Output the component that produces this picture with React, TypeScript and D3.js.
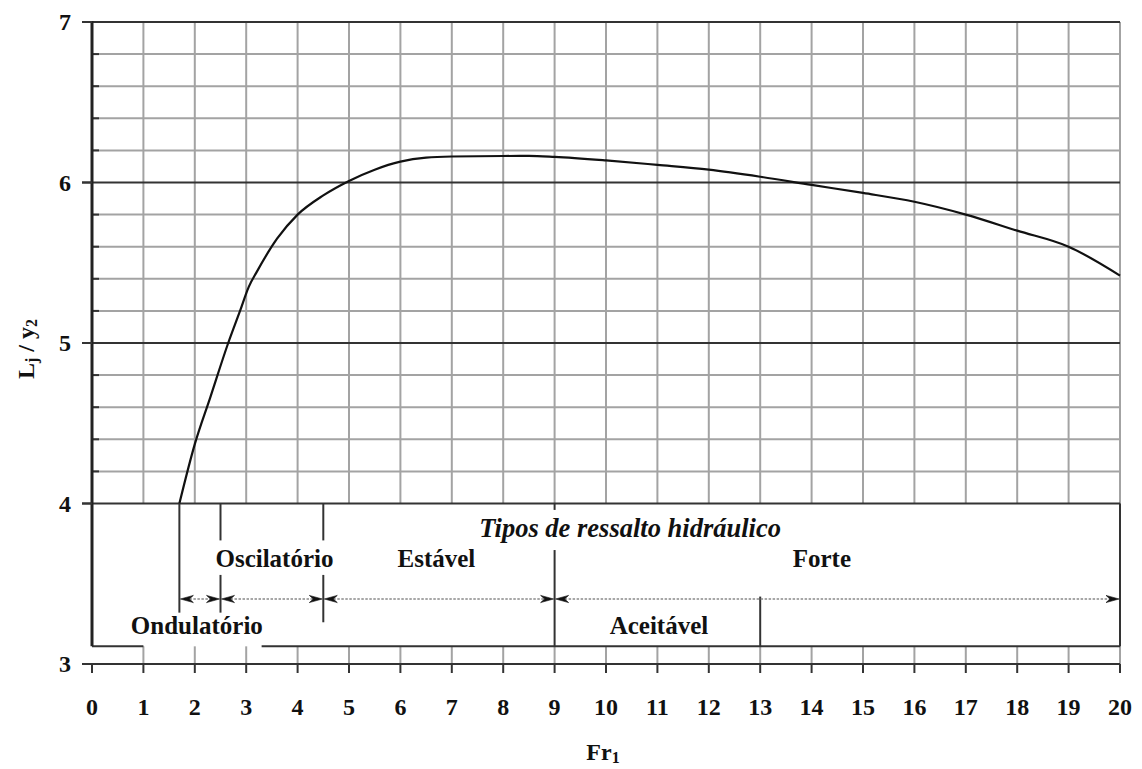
import React from "react";
import * as d3 from "d3";

// Relative length of the hydraulic jump, L_j / y_2, against upstream Froude number Fr_1
const frValues = [1.7, 2.0, 2.3, 2.65, 2.88, 3.05, 3.2, 3.6, 4.0, 4.5, 5.0, 5.5, 6.0, 6.5, 7.0, 8.0, 8.5, 9.0, 10.0, 11.0, 12.0, 13.0, 14.0, 15.0, 16.0, 17.0, 18.0, 19.0, 20.0];
const ljOverY2 = [4.0, 4.37, 4.66, 5.0, 5.2, 5.35, 5.44, 5.65, 5.8, 5.92, 6.01, 6.08, 6.13, 6.155, 6.162, 6.165, 6.166, 6.16, 6.138, 6.11, 6.08, 6.036, 5.985, 5.935, 5.88, 5.8, 5.7, 5.6, 5.42];

const xTicks = d3.range(0, 21);
const yTicks = [3, 4, 5, 6, 7];

// Ranges of jump types (Fr_1 boundaries)
const typeBounds = [1.7, 2.5, 4.5, 9, 20];
const typeNames = ["Oscilatório", "Estável", "Forte"];
const typeNameX = [3.55, 6.7, 14.2];
const lowerNames = ["Ondulatório", "Aceitável"];
const lowerNameX = [2.04, 11.03];

const W = 1142;
const H = 769;
const x = d3.scaleLinear().domain([0, 20]).range([92, 1120]);
const y = d3.scaleLinear().domain([3, 7]).range([664, 22]);

const serif = "'Liberation Serif', 'Times New Roman', serif";
const gridGrey = "#a3a3a3";
const dark = "#333";

function ArrowHead({ px, py, dir }: { px: number; py: number; dir: number }) {
  // dir = +1 points right, -1 points left; tip at (px, py)
  const L = 13;
  const h = 3.6;
  const n = 4;
  const d = `M${px},${py} L${px - dir * L},${py - h} L${px - dir * (L - n)},${py} L${px - dir * L},${py + h} Z`;
  return <path d={d} fill="#111" stroke="#111" strokeWidth={0.6} />;
}

export default function App() {
  const line = d3
    .line<number>()
    .x((_, i) => x(frValues[i]))
    .y((v) => y(v))
    .curve(d3.curveMonotoneX);

  const minorY = d3.range(4.2, 7, 0.2).filter((v) => Math.abs(v - Math.round(v)) > 0.05);
  const boxBottom = y(3.11);
  const arrowY = y(3.405);

  return (
    <div style={{ position: "absolute", left: 0, top: 0 }}>
      <svg width={W} height={H} viewBox={`0 0 ${W} ${H}`} style={{ display: "block", background: "#fff" }}>
        {/* vertical grid */}
        {xTicks.slice(1).map((t) => (
          <line key={`vg${t}`} x1={x(t)} x2={x(t)} y1={y(7)} y2={y(3)} stroke={gridGrey} strokeWidth={2} />
        ))}
        {/* minor horizontal grid */}
        {minorY.map((v) => (
          <line key={`mh${v.toFixed(1)}`} x1={x(0)} x2={x(20)} y1={y(v)} y2={y(v)} stroke={gridGrey} strokeWidth={2} />
        ))}
        {/* major horizontal grid */}
        {[5, 6, 7].map((v) => (
          <line key={`Mh${v}`} x1={x(0) - 10} x2={x(20)} y1={y(v)} y2={y(v)} stroke={dark} strokeWidth={2} />
        ))}
        {/* minor ticks on y axis */}
        {minorY.map((v) => (
          <line key={`mt${v.toFixed(1)}`} x1={x(0)} x2={x(0) + 7} y1={y(v)} y2={y(v)} stroke={dark} strokeWidth={2} />
        ))}

        {/* jump-type panel */}
        <rect x={x(0)} y={y(4)} width={x(20) - x(0)} height={boxBottom - y(4)} fill="#fff" />
        <line x1={x(0) - 10} x2={x(20)} y1={y(4)} y2={y(4)} stroke={dark} strokeWidth={2} />
        <line x1={x(20)} x2={x(20)} y1={y(4)} y2={boxBottom} stroke={dark} strokeWidth={2} />
        <line x1={x(0)} x2={x(1)} y1={boxBottom} y2={boxBottom} stroke={dark} strokeWidth={2} />
        <line x1={x(3.3)} x2={x(20)} y1={boxBottom} y2={boxBottom} stroke={dark} strokeWidth={2} />

        {/* y axis */}
        <line x1={x(0)} x2={x(0)} y1={y(7) - 1} y2={boxBottom} stroke="#222" strokeWidth={3} />
        {yTicks.map((t) => (
          <g key={`yt${t}`}>
            <line x1={x(0) - 10} x2={x(0)} y1={y(t)} y2={y(t)} stroke={dark} strokeWidth={2} />
            <text x={71} y={y(t)} textAnchor="end" dominantBaseline="central" fontFamily={serif} fontWeight="bold" fontSize={24} fill="#111">
              {t}
            </text>
          </g>
        ))}

        {/* x axis */}
        <line x1={x(0) - 10} x2={x(20)} y1={y(3)} y2={y(3)} stroke={dark} strokeWidth={2} />
        {xTicks.map((t) => (
          <g key={`xt${t}`}>
            <line x1={x(t)} x2={x(t)} y1={y(3)} y2={y(3) + 9} stroke={dark} strokeWidth={2} />
            <text x={x(t)} y={707} textAnchor="middle" dominantBaseline="central" fontFamily={serif} fontWeight="bold" fontSize={24} fill="#111">
              {t}
            </text>
          </g>
        ))}

        {/* curve */}
        <path d={line(ljOverY2) || ""} fill="none" stroke="#111" strokeWidth={2.2} />

        {/* boundary markers */}
        <line x1={x(1.7)} x2={x(1.7)} y1={y(4)} y2={y(3.32)} stroke={dark} strokeWidth={2} />
        <line x1={x(2.5)} x2={x(2.5)} y1={y(4)} y2={y(3.77)} stroke={dark} strokeWidth={2} />
        <line x1={x(2.5)} x2={x(2.5)} y1={y(3.555)} y2={y(3.32)} stroke={dark} strokeWidth={2} />
        <line x1={x(4.5)} x2={x(4.5)} y1={y(4)} y2={y(3.77)} stroke={dark} strokeWidth={2} />
        <line x1={x(4.5)} x2={x(4.5)} y1={y(3.555)} y2={y(3.26)} stroke={dark} strokeWidth={2} />
        <line x1={x(9)} x2={x(9)} y1={y(4)} y2={y(3.96)} stroke={dark} strokeWidth={2} />
        <line x1={x(9)} x2={x(9)} y1={y(3.71)} y2={boxBottom} stroke={dark} strokeWidth={2} />
        <line x1={x(13)} x2={x(13)} y1={y(3.42)} y2={boxBottom} stroke={dark} strokeWidth={2} />

        {/* range arrows */}
        {typeBounds.slice(0, -1).map((b, i) => {
          const a = x(b);
          const c = x(typeBounds[i + 1]);
          return (
            <g key={`ar${i}`}>
              <line x1={a + 10} x2={c - 10} y1={arrowY} y2={arrowY} stroke="#8a8a8a" strokeWidth={1.6} strokeDasharray="2.5,1.5" />
              <ArrowHead px={a + 1} py={arrowY} dir={-1} />
              <ArrowHead px={c - 1} py={arrowY} dir={1} />
            </g>
          );
        })}

        {/* panel labels */}
        <text x={x(10.47)} y={y(3.85)} textAnchor="middle" dominantBaseline="central" fontFamily={serif} fontStyle="italic" fontWeight="bold" fontSize={26.5} fill="#111">
          Tipos de ressalto hidráulico
        </text>
        {typeNames.map((n, i) => (
          <text key={n} x={x(typeNameX[i])} y={y(3.655)} textAnchor="middle" dominantBaseline="central" fontFamily={serif} fontWeight="bold" fontSize={25} fill="#111">
            {n}
          </text>
        ))}
        {lowerNames.map((n, i) => (
          <text key={n} x={x(lowerNameX[i])} y={y(3.24)} textAnchor="middle" dominantBaseline="central" fontFamily={serif} fontWeight="bold" fontSize={25} fill="#111">
            {n}
          </text>
        ))}

        {/* axis titles */}
        <text x={603} y={752} textAnchor="middle" dominantBaseline="central" fontFamily={serif} fontWeight="bold" fontSize={24} fill="#111">
          Fr<tspan fontSize={16} dy={5}>1</tspan>
        </text>
        <text transform="translate(26,349) rotate(-90)" textAnchor="middle" dominantBaseline="central" fontFamily={serif} fontWeight="bold" fontSize={24} fill="#111">
          L<tspan fontSize={16} dy={5}>j</tspan>
          <tspan dy={-5}> / y</tspan>
          <tspan fontSize={16} dy={5}>2</tspan>
        </text>
      </svg>
    </div>
  );
}
